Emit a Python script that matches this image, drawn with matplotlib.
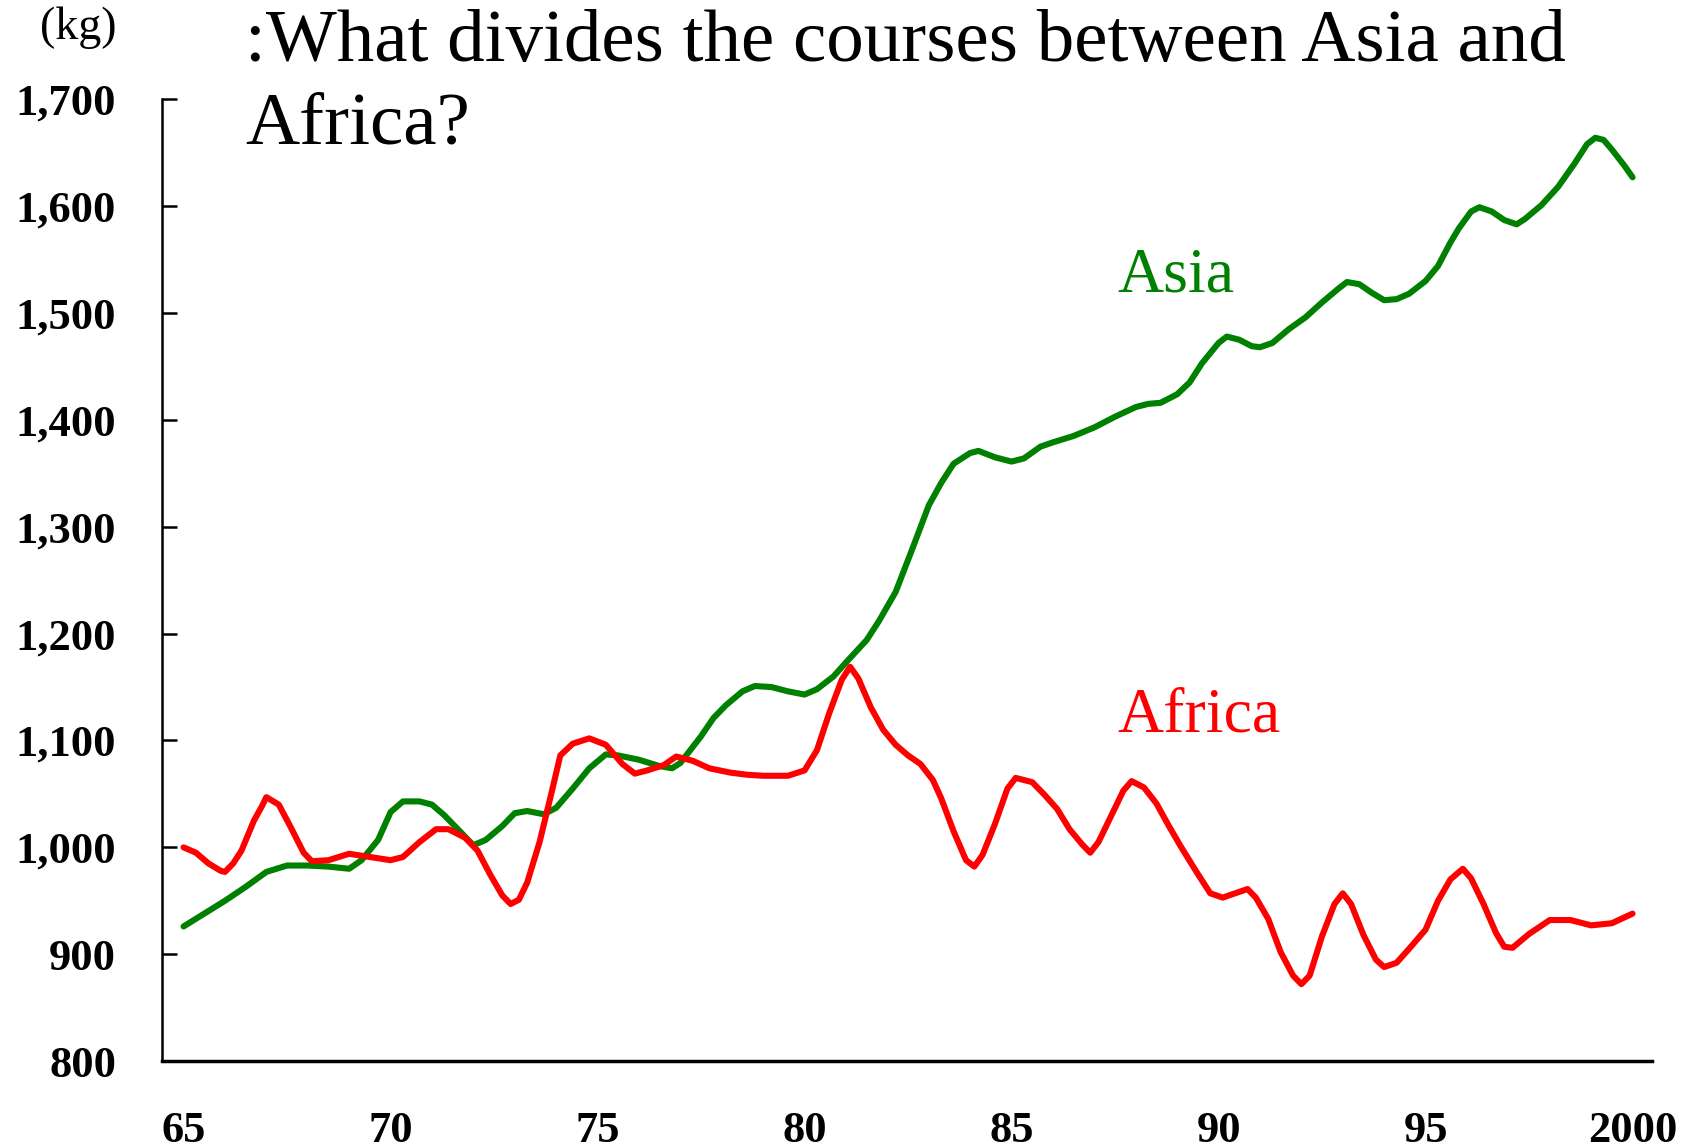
import matplotlib
matplotlib.use("Agg")
import matplotlib.pyplot as plt

# values (kg per year)
asia_years = [1965.0, 1966.0, 1966.5, 1967.0, 1967.5, 1968.0, 1968.5, 1969.0, 1969.3, 1969.7,
              1970.0, 1970.3, 1970.7, 1971.0, 1971.3, 1971.7, 1972.0, 1972.3, 1972.7, 1973.0,
              1973.3, 1973.7, 1974.0, 1974.4, 1974.8, 1975.2, 1975.5, 1976.0, 1976.5, 1976.8,
              1977.0, 1977.5, 1977.8, 1978.1, 1978.5, 1978.8, 1979.2, 1979.6, 1980.0, 1980.3,
              1980.7, 1981.0, 1981.5, 1981.8, 1982.2, 1982.6, 1983.0, 1983.3, 1983.6, 1984.0,
              1984.2, 1984.6, 1985.0, 1985.3, 1985.7, 1986.0, 1986.5, 1987.0, 1987.5, 1988.0,
              1988.3, 1988.6, 1989.0, 1989.3, 1989.6, 1990.0, 1990.2, 1990.5, 1990.8, 1991.0,
              1991.3, 1991.7, 1992.1, 1992.5, 1992.9, 1993.1, 1993.4, 1993.7, 1994.0, 1994.3,
              1994.6, 1995.0, 1995.3, 1995.6, 1995.8, 1996.1, 1996.3, 1996.6, 1996.9, 1997.2,
              1997.4, 1997.8, 1998.2, 1998.6, 1998.9, 1999.1, 1999.3, 1999.5, 1999.8, 2000.0]
asia_vals = [926, 950, 963, 977, 983, 983, 982, 980, 988, 1007,
             1033, 1043, 1043, 1040, 1030, 1014, 1002, 1007, 1020, 1032,
             1034, 1031, 1037, 1055, 1074, 1087, 1086, 1082, 1076, 1074,
             1079, 1104, 1121, 1133, 1146, 1151, 1150, 1146, 1143, 1148,
             1160, 1173, 1194, 1212, 1239, 1279, 1320, 1341, 1359, 1369,
             1371, 1365, 1361, 1364, 1375, 1379, 1385, 1393, 1403, 1412,
             1415, 1416, 1424, 1435, 1453, 1472, 1478, 1475, 1469, 1468,
             1472, 1485, 1496, 1510, 1523, 1529, 1527, 1519, 1512, 1513,
             1518, 1530, 1544, 1566, 1579, 1595, 1599, 1595, 1587, 1583,
             1588, 1601, 1618, 1640, 1658, 1664, 1662, 1653, 1638, 1627]

africa_years = [1965.0, 1965.3, 1965.6, 1965.9, 1966.0, 1966.2, 1966.4, 1966.7, 1966.9, 1967.0,
                1967.3, 1967.6, 1967.9, 1968.1, 1968.5, 1969.0, 1969.5, 1970.0, 1970.3, 1970.7,
                1971.1, 1971.4, 1971.8, 1972.1, 1972.4, 1972.7, 1972.9, 1973.1, 1973.3, 1973.6,
                1973.9, 1974.1, 1974.4, 1974.8, 1975.2, 1975.6, 1975.9, 1976.2, 1976.6, 1976.9,
                1977.3, 1977.7, 1978.2, 1978.6, 1979.0, 1979.6, 1980.0, 1980.3, 1980.6, 1980.9,
                1981.1, 1981.3, 1981.6, 1981.9, 1982.2, 1982.5, 1982.8, 1983.1, 1983.3, 1983.6,
                1983.9, 1984.1, 1984.3, 1984.6, 1984.9, 1985.1, 1985.5, 1985.8, 1986.1, 1986.4,
                1986.7, 1986.9, 1987.1, 1987.4, 1987.7, 1987.9, 1988.2, 1988.5, 1988.8, 1989.1,
                1989.5, 1989.8, 1990.1, 1990.4, 1990.7, 1990.9, 1991.2, 1991.5, 1991.8, 1992.0,
                1992.2, 1992.5, 1992.8, 1993.0, 1993.2, 1993.5, 1993.8, 1994.0, 1994.3, 1994.6,
                1995.0, 1995.3, 1995.6, 1995.9, 1996.1, 1996.4, 1996.7, 1996.9, 1997.1, 1997.5,
                1998.0, 1998.5, 1999.0, 1999.5, 2000.0]
africa_vals = [1000, 995, 985, 978, 977, 985, 997, 1025, 1039, 1047,
               1040, 1018, 995, 987, 988, 994, 991, 988, 991, 1005,
               1017, 1017, 1009, 997, 975, 955, 947, 951, 967, 1005,
               1053, 1086, 1097, 1102, 1096, 1078, 1069, 1072, 1077, 1085,
               1081, 1074, 1070, 1068, 1067, 1067, 1072, 1091, 1126, 1157,
               1169, 1158, 1131, 1110, 1096, 1086, 1078, 1063, 1046, 1015,
               988, 982, 993, 1022, 1055, 1065, 1061, 1049, 1036, 1017,
               1003, 995, 1005, 1029, 1053, 1062, 1056, 1041, 1020, 1000,
               975, 957, 953, 957, 961, 953, 933, 902, 880, 872,
               880, 917, 947, 957, 947, 918, 895, 888, 892, 905,
               923, 950, 970, 980, 971, 947, 920, 907, 906, 919,
               932, 932, 927, 929, 938]

y_ticks = [800, 900, 1000, 1100, 1200, 1300, 1400, 1500, 1600, 1700]
y_labels = ["800", "900", "1,000", "1,100", "1,200", "1,300", "1,400", "1,500", "1,600", "1,700"]
x_ticks = [1965, 1970, 1975, 1980, 1985, 1990, 1995, 2000]
x_labels = ["65", "70", "75", "80", "85", "90", "95", "2000"]

plt.rcParams["font.family"] = ["Liberation Serif", "DejaVu Serif"]

fig = plt.figure(figsize=(16.93, 11.48), dpi=100)
ax = fig.add_axes([0.0957, 0.0757, 0.8801, 0.8378])

ax.plot(asia_years, asia_vals, color="#008000", lw=4.4, solid_joinstyle="round", solid_capstyle="round")
ax.plot(africa_years, africa_vals, color="#ff0000", lw=4.4, solid_joinstyle="round", solid_capstyle="round")

ax.set_xlim(1964.48, 2000.47)
ax.set_ylim(800, 1700)

ax.set_yticks(y_ticks)
ax.set_yticklabels(y_labels, fontsize=32, fontweight="bold")
ax.set_xticks(x_ticks)
ax.set_xticklabels(x_labels, fontsize=32, fontweight="bold")
ax.tick_params(axis="y", direction="in", length=11, width=1.8, pad=33)
ax.tick_params(axis="x", length=0, pad=36)

ax.spines["top"].set_visible(False)
ax.spines["right"].set_visible(False)
ax.spines["left"].set_linewidth(1.8)
ax.spines["bottom"].set_linewidth(2.5)

ax.text(1987.55, 1520, "Asia", color="#008000", fontsize=46)
ax.text(1987.55, 1108, "Africa", color="#ff0000", fontsize=46)

fig.text(0.145, 0.8746, ":What divides the courses between Asia and\nAfrica?", fontsize=54,
         va="baseline", linespacing=1.3)
fig.text(0.0236, 0.966, "(kg)", fontsize=33, va="baseline")

fig.savefig("out.png", dpi=100)
